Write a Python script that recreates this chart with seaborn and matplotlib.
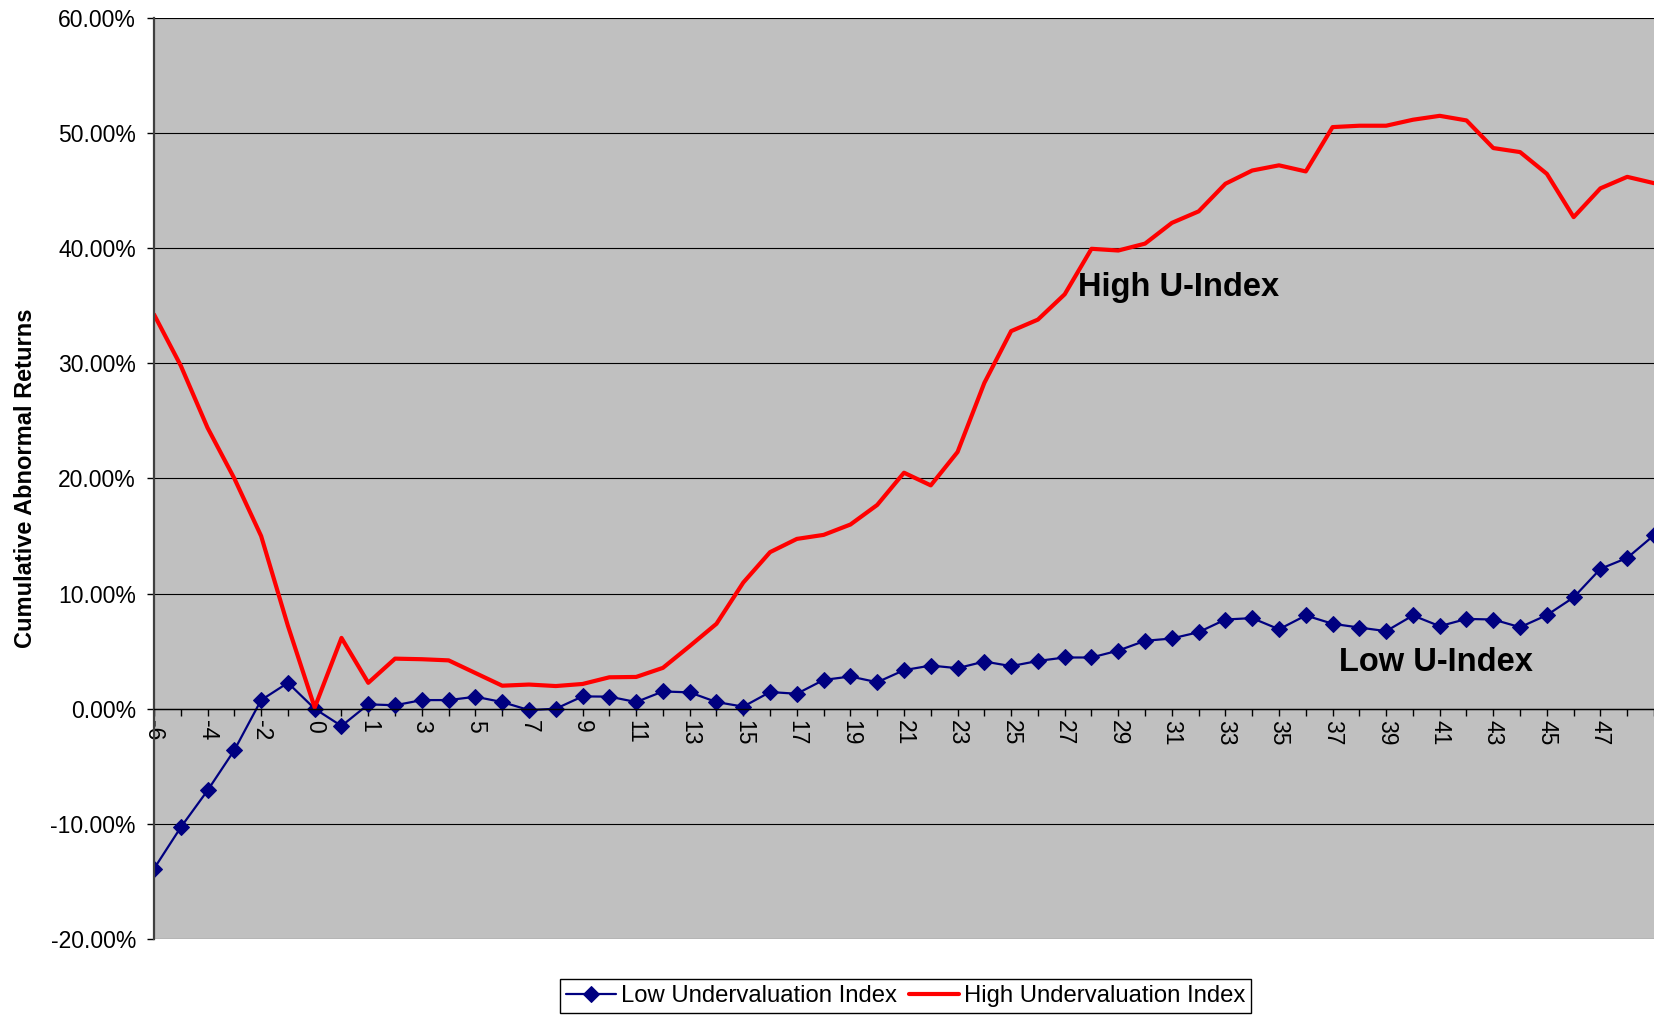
import numpy as np
import pandas as pd
import matplotlib
matplotlib.use("Agg")
import matplotlib.pyplot as plt
import seaborn as sns

# event-time labels (index 7 sits between 0 and 1, only every other label shows)
periods = ['-6', '-5', '-4', '-3', '-2', '-1', '0', '0', '1', '2', '3', '4', '5', '6', '7',
           '8', '9', '10', '11', '12', '13', '14', '15', '16', '17', '18', '19', '20', '21',
           '22', '23', '24', '25', '26', '27', '28', '29', '30', '31', '32', '33', '34', '35',
           '36', '37', '38', '39', '40', '41', '42', '43', '44', '45', '46', '47', '48', '49']

# cumulative abnormal returns in %
low_index = [-13.9, -10.3, -7.1, -3.6, 0.75, 2.25, 0.0, -1.5, 0.38, 0.3, 0.75, 0.75, 1.04,
             0.58, -0.12, 0.0, 1.07, 1.05, 0.58, 1.5, 1.42, 0.58, 0.18, 1.45, 1.3, 2.5, 2.8,
             2.3, 3.35, 3.75, 3.52, 4.1, 3.7, 4.15, 4.45, 4.45, 5.05, 5.9, 6.1, 6.65, 7.75,
             7.87, 6.9, 8.1, 7.38, 7.05, 6.74, 8.1, 7.17, 7.8, 7.75, 7.08, 8.13, 9.67, 12.15,
             13.1, 15.07]
high_index = [34.25, 29.8, 24.4, 20.0, 15.0, 7.2, 0.1, 6.15, 2.25, 4.35, 4.3, 4.2, 3.1, 2.0,
              2.1, 1.97, 2.15, 2.73, 2.76, 3.55, 5.44, 7.38, 10.96, 13.6, 14.75, 15.1, 16.0,
              17.7, 20.5, 19.4, 22.3, 28.3, 32.8, 33.8, 36.0, 39.95, 39.8, 40.4, 42.2, 43.2,
              45.6, 46.75, 47.2, 46.67, 50.52, 50.64, 50.64, 51.16, 51.5, 51.1, 48.7, 48.35,
              46.46, 42.7, 45.2, 46.2, 45.65]

y_ticks = [-20, -10, 0, 10, 20, 30, 40, 50, 60]

df = pd.DataFrame({'pos': np.arange(len(periods)), 'low': low_index, 'high': high_index})

sns.set_theme(style='white')
plt.rcParams['font.family'] = ['Liberation Sans', 'DejaVu Sans']
plt.rcParams.update({'text.color': 'black', 'axes.labelcolor': 'black',
                     'xtick.color': 'black', 'ytick.color': 'black'})

fig = plt.figure(figsize=(16.54, 10.15), dpi=100)
ax = fig.add_axes([0.0931, 0.0749, 0.9069, 0.9074])
ax.set_facecolor('#C0C0C0')

sns.lineplot(data=df, x='pos', y='low', ax=ax, color='#000080', lw=1.6, marker='D',
             markersize=8.5, markeredgecolor='#000080', label='Low Undervaluation Index')
sns.lineplot(data=df, x='pos', y='high', ax=ax, color='#FF0000', lw=3.0,
             label='High Undervaluation Index')

# spine position first: moving it resets the tick settings
for s in ['top', 'right']:
    ax.spines[s].set_visible(False)
ax.spines['bottom'].set_position(('data', 0))
ax.spines['bottom'].set_color('black')
ax.spines['bottom'].set_linewidth(1.0)
ax.spines['left'].set_color('#404040')
ax.spines['left'].set_linewidth(1.6)

ax.set_xlim(0, 55.89)
ax.set_ylim(-20, 60)
ax.set_yticks(y_ticks)
ax.set_yticklabels([f'{v:.2f}%' for v in y_ticks], fontsize=16.5)
ax.set_xticks(df['pos'])
# last label falls past the cropped right edge
ax.set_xticklabels([p if i % 2 == 0 and i < 56 else '' for i, p in enumerate(periods)],
                   rotation=-90, fontsize=16.5)
ax.yaxis.grid(True, color='black', lw=0.8)
ax.set_axisbelow(True)

ax.tick_params(axis='y', direction='out', length=5, width=1, color='black', pad=8, left=True)
ax.tick_params(axis='x', direction='out', length=5, width=1, color='black', pad=3, bottom=True)

ax.set_xlabel('')
ax.set_ylabel('Cumulative Abnormal Returns', fontsize=17, fontweight='bold', labelpad=10)

ax.text(34.5, 36.6, 'High U-Index', fontsize=23.5, fontweight='bold', va='center')
ax.text(44.25, 4.0, 'Low U-Index', fontsize=23.5, fontweight='bold', va='center')

leg = ax.legend(loc='center', bbox_to_anchor=(905.5 / 1654, 1 - 996 / 1015),
                bbox_transform=fig.transFigure, ncol=2, fontsize=17.2, frameon=True,
                fancybox=False, edgecolor='black', framealpha=1, borderpad=0.25,
                handlelength=2.1, handletextpad=0.2, columnspacing=0.5,
                borderaxespad=0)
leg.get_frame().set_linewidth(1.0)

fig.savefig('out.png', dpi=100)
